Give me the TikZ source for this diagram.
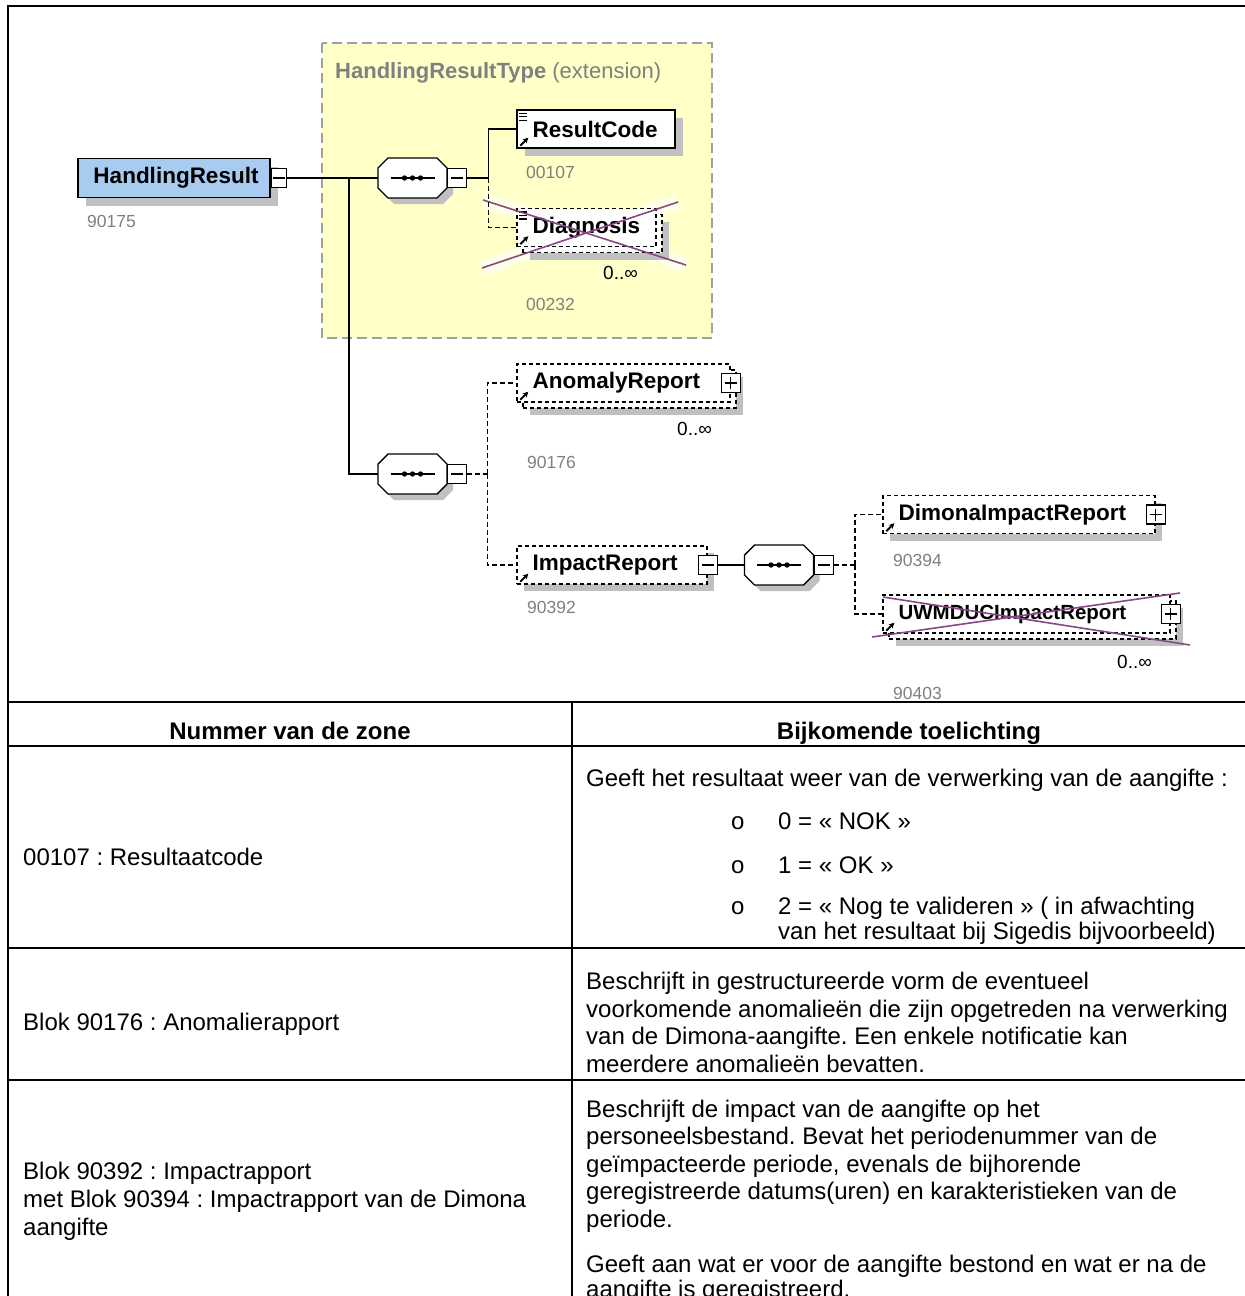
\documentclass[tikz,border=0pt]{standalone}
\usepackage{fontspec}
\setmainfont{Liberation Sans}
\usetikzlibrary{calc,shadows,arrows.meta}
\definecolor{shadowc}{RGB}{192,192,192}
\definecolor{yellowbg}{RGB}{255,255,200}
\definecolor{rootblue}{RGB}{168,204,240}
\definecolor{numgray}{RGB}{128,128,128}
\definecolor{crosspurple}{RGB}{136,72,136}
\definecolor{extborder}{RGB}{160,160,160}
\newcommand\TblFont{\fontsize{24}{27.5}\selectfont}
\newcommand\ElFont{\fontsize{22.5}{25}\selectfont\bfseries}
\newcommand\NumFont{\fontsize{17.5}{20}\selectfont}
\newcommand\MultFont{\fontsize{19}{21}\selectfont}
\newcommand\MinusIn[1]{\draw[line width=1.2pt] ($(#1.center)+(-6,0)$) -- ($(#1.center)+(6,0)$);}
\newcommand\PlusIn[1]{\MinusIn{#1}\draw[line width=1.2pt] ($(#1.center)+(0,-6)$) -- ($(#1.center)+(0,6)$);}
\newcommand\RefArrow[1]{\draw[line width=1.8pt, -{Stealth[length=5.5pt,width=5.5pt]}] ($(#1.south west)+(4,-3)$) -- ($(#1.south west)+(12,-11)$);}
\newcommand\SimpleLines[1]{\foreach \dy in {4,7.5,11} {\draw[line width=1.3pt] ($(#1.north west)+(3,\dy)$) -- ++(8,0);}}
\newcommand\SeqOct[3]{%
  \node[draw=none, minimum width=69pt, minimum height=40pt, inner sep=0pt] (#1) at (#2,#3) {};
  \fill[shadowc] ($(#1.center)+(6,6)$) ++(-34.5,-10) -- ++(10,-10) -- ++(49,0) -- ++(10,10) -- ++(0,20) -- ++(-10,10) -- ++(-49,0) -- ++(-10,-10) -- cycle;
  \filldraw[fill=white, draw=black, line width=1.4pt] ($(#1.center)+(0,0)$) ++(-34.5,-10) -- ++(10,-10) -- ++(49,0) -- ++(10,10) -- ++(0,20) -- ++(-10,10) -- ++(-49,0) -- ++(-10,-10) -- cycle;
  \draw[line width=1.4pt] ($(#1.center)+(-22,0)$) -- ($(#1.center)+(22,0)$);
  \foreach \dx in {-8,0,8} {\fill ($(#1.center)+(\dx,0)$) circle[radius=2.7pt];}
  \node[pmbox, anchor=west] (#1m) at (#1.east) {};
  \MinusIn{#1m}
}
\begin{document}
\frenchspacing
\begin{tikzpicture}[x=1pt,y=-1pt,
  conn/.style={line width=1.4pt},
  optconn/.style={line width=1.4pt, dash pattern=on 5pt off 3pt},
  shad/.style={drop shadow={shadow xshift=#1pt, shadow yshift=-#1pt, fill=shadowc, opacity=1}},
  reqbox/.style={draw=black, line width=1.4pt, fill=white, inner sep=0pt, minimum height=38pt},
  optbox/.style={draw=black, line width=1.3pt, dash pattern=on 4pt off 3pt, fill=white, inner sep=0pt, minimum height=38pt},
  elname/.style={font=\ElFont, anchor=west, inner sep=0pt},
  numlbl/.style={font=\NumFont, text=numgray, anchor=west, inner sep=0pt},
  mult/.style={font=\MultFont, anchor=west, inner sep=0pt},
  pmbox/.style={draw=black, line width=1.2pt, fill=white, minimum width=19pt, minimum height=19pt, inner sep=0pt},
  glow/.style={white, opacity=0.55, line width=16pt},
  tbl/.style={line width=2pt},
  tx/.style={font=\TblFont, anchor=base west, inner sep=0pt},
  txb/.style={font=\TblFont\bfseries, anchor=base, inner sep=0pt},
]
\useasboundingbox (0,0) rectangle (1245,1296);
\clip (0,0) rectangle (1245,1296);

% frame and table lines
\draw[tbl] (7,6) -- (1246,6);
\draw[tbl] (8,5) -- (8,1296);
\draw[tbl] (8,702) -- (1246,702);
\draw[tbl] (8,746) -- (1246,746);
\draw[tbl] (8,948) -- (1246,948);
\draw[tbl] (8,1080) -- (1246,1080);
\draw[tbl] (572,702) -- (572,1296);

% extension region
\filldraw[fill=yellowbg, draw=extborder, line width=2pt, dash pattern=on 10pt off 5pt] (322,43) rectangle (712,338);
\node[anchor=west, inner sep=0pt, font=\fontsize{22}{24}\selectfont, text=numgray] (extt) at (335,73) {\textbf{HandlingResultType} (extension)};

% glows behind removed elements
\draw[glow] (483,200) -- (686,265) (482,268) -- (678,202);
\draw[glow] (883,597) -- (1190,645) (872,637) -- (1180,593);

% root element
\node[draw=black, line width=1.4pt, fill=rootblue, minimum width=192pt, minimum height=39pt, inner sep=0pt, shad=8] (root) at (174,178) {};
\node[font=\ElFont, inner sep=0pt] (rootl) at (176,178) {HandlingResult};
\node[pmbox, minimum width=15pt, anchor=west] (rootm) at (root.east) {};
\MinusIn{rootm}
\node[numlbl] (n90175) at (87,221) {90175};

% sequences
\SeqOct{seq1}{412.5}{178}
\SeqOct{seq2}{412.5}{474}
\SeqOct{seq3}{779}{565}

% ResultCode
\node[reqbox, minimum width=158pt, shad=8] (rc) at (596,129) {};
\node[elname] (rcl) at ($(rc.west)+(16,0)$) {ResultCode};
\SimpleLines{rc}\RefArrow{rc}
\node[numlbl] (n00107) at (526,172) {00107};

% Diagnosis
\node[optbox, minimum width=139pt, shad=7] (diagB) at (592.5,233.5) {};
\node[optbox, minimum width=139pt] (diag) at (586.5,227.5) {};
\node[elname] (diagl) at ($(diag.west)+(16,0)$) {Diagnosis};
\SimpleLines{diag}\RefArrow{diag}
\node[mult] (m1) at (603,273) {0..∞};
\node[numlbl] (n00232) at (526,304) {00232};
\draw[crosspurple, line width=1.6pt] (483,200) -- (686,265) (482,268) -- (678,202);

% AnomalyReport
\node[optbox, minimum width=213pt, shad=7] (anomB) at (629.5,389) {};
\node[optbox, minimum width=213pt] (anom) at (623.5,383) {};
\node[elname] (anoml) at ($(anom.west)+(16,0)$) {AnomalyReport};
\RefArrow{anom}
\node[pmbox] (anomp) at (anom.east) {};
\PlusIn{anomp}
\node[mult] (m2) at (677,429) {0..∞};
\node[numlbl] (n90176) at (527,462) {90176};

% ImpactReport
\node[optbox, minimum width=190pt, shad=7] (imp) at (612,565) {};
\node[elname] (impl) at ($(imp.west)+(16,0)$) {ImpactReport};
\RefArrow{imp}
\node[pmbox] (impm) at (imp.east) {};
\MinusIn{impm}
\node[numlbl] (n90392) at (527,607) {90392};

% DimonaImpactReport
\node[optbox, minimum width=272pt, shad=7] (dim) at (1019,514.5) {};
\node[elname] (diml) at ($(dim.west)+(16,0)$) {DimonaImpactReport};
\RefArrow{dim}
\node[pmbox] (dimp) at (dim.east) {};
\PlusIn{dimp}
\node[numlbl] (n90394) at (893,560) {90394};

% UWMDUCImpactReport
\node[optbox, minimum width=287pt, shad=7] (uwmB) at (1032.5,620) {};
\node[optbox, minimum width=287pt] (uwm) at (1026.5,614) {};
\node[elname, font=\fontsize{20.5}{23}\selectfont\bfseries] (uwml) at ($(uwm.west)+(16,0)$) {UWMDUCImpactReport};
\RefArrow{uwm}
\node[pmbox] (uwmp) at (uwm.east) {};
\PlusIn{uwmp}
\node[mult] (m3) at (1117,662) {0..∞};
\node[numlbl] (n90403) at (893,693) {90403};
\draw[crosspurple, line width=1.6pt] (883,597) -- (1190,645) (872,637) -- (1180,593);

% connectors
\coordinate (J) at (349,178);
\draw[conn] (rootm.east) -- (seq1.west);
\draw[conn] (J) |- (seq2.west);
\draw[conn] (seq1m.east) -- ++(21,0) coordinate (s1j) |- (rc.west);
\draw[optconn] (s1j) |- (diag.west);
\draw[optconn] (seq2m.east) -- ++(20,0) coordinate (s2j);
\draw[optconn] (s2j) |- (anom.west);
\draw[optconn] (s2j) |- (imp.west);
\draw[conn] (impm.east) -- (seq3.west);
\draw[optconn] (seq3m.east) -- ++(21,0) coordinate (s3j);
\draw[optconn] (s3j) |- (dim.west);
\draw[optconn] (s3j) |- (uwm.west);

% table header
\node[txb] (h1) at (290,739) {Nummer van de zone};
\node[txb] (h2) at (909,739) {Bijkomende toelichting};

% row 1
\node[tx] (l1) at (23,865) {00107 : Resultaatcode};
\node[tx] (r1a) at (586,786) {Geeft het resultaat weer van de verwerking van de aangifte :};
\node[tx] (b1) at (731,829) {o};
\node[tx] (r1b) at (778,829) {0 = « NOK »};
\node[tx] (b2) at (731,873) {o};
\node[tx] (r1c) at (778,873) {1 = « OK »};
\node[tx] (b3) at (731,914) {o};
\node[tx] (r1d) at (778,914) {2 = « Nog te valideren » ( in afwachting};
\node[tx] (r1e) at (778,939) {van het resultaat bij Sigedis bijvoorbeeld)};

% row 2
\node[tx] (l2) at (23,1030) {Blok 90176 : Anomalierapport};
\node[tx] (r2a) at (586,989) {Beschrijft in gestructureerde vorm de eventueel};
\node[tx] (r2b) at (586,1017) {voorkomende anomalieën die zijn opgetreden na verwerking};
\node[tx] (r2c) at (586,1044) {van de Dimona-aangifte. Een enkele notificatie kan};
\node[tx] (r2d) at (586,1072) {meerdere anomalieën bevatten.};

% row 3
\node[tx] (l3a) at (23,1179) {Blok 90392 : Impactrapport};
\node[tx] (l3b) at (23,1207) {met Blok 90394 : Impactrapport van de Dimona};
\node[tx] (l3c) at (23,1235) {aangifte};
\node[tx] (r3a) at (586,1117) {Beschrijft de impact van de aangifte op het};
\node[tx] (r3b) at (586,1144) {personeelsbestand. Bevat het periodenummer van de};
\node[tx] (r3c) at (586,1172) {geïmpacteerde periode, evenals de bijhorende};
\node[tx] (r3d) at (586,1199) {geregistreerde datums(uren) en karakteristieken van de};
\node[tx] (r3e) at (586,1227) {periode.};
\node[tx] (r3f) at (586,1272) {Geeft aan wat er voor de aangifte bestond en wat er na de};
\node[tx] (r3g) at (586,1297) {aangifte is geregistreerd.};
\end{tikzpicture}
\end{document}
